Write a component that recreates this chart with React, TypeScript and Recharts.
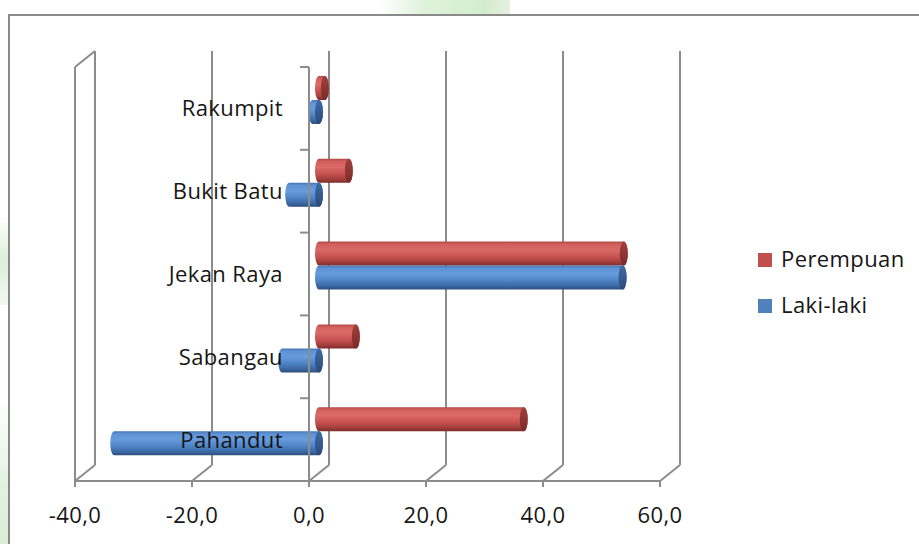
import React from 'react';
import {
  BarChart,
  Bar,
  XAxis,
  YAxis,
  CartesianGrid,
  ReferenceLine,
  ReferenceDot,
} from 'recharts';

// Kecamatan order as in the worksheet (first row ends up at the bottom)
const kecamatan = ['Pahandut', 'Sabangau', 'Jekan Raya', 'Bukit Batu', 'Rakumpit'];
const lakiLaki = [-35.0, -6.3, 51.9, -5.1, -1.1];
const perempuan = [35.0, 6.3, 52.1, 5.1, 1.0];
const xTicks = [-40, -20, 0, 20, 40, 60];

const data = kecamatan.map((name, i) => ({
  name,
  laki: lakiLaki[i],
  perempuan: perempuan[i],
}));

// depth of the fake 3D box (back wall offset from the front plane)
const DX = 20;
const DY = -16;
const GRID = '#8c8c8c';
const FONT = '"Open Sans", sans-serif';
const FONT_SIZE = 22;
const SPACING = 0.4;
const TEXT = '#161616';

const fmt = (v: number) => v.toFixed(1).replace('.', ',');

const Cylinder = (props: any) => {
  const { x, y, width, height, tone } = props;
  if (width == null || height == null || !height) return null;
  const left = Math.min(x, x + width) + DX / 2;
  const right = Math.max(x, x + width) + DX / 2;
  const top = y + DY / 2;
  const ry = height / 2;
  const rx = 4;
  const d = `M${left},${top} L${right},${top} A${rx},${ry} 0 0 1 ${right},${top + height} L${left},${top + height} A${rx},${ry} 0 0 1 ${left},${top} Z`;
  return (
    <g>
      <path d={d} fill={`url(#body-${tone})`} />
      <ellipse cx={right} cy={top + ry} rx={rx} ry={ry} fill={`url(#cap-${tone})`} />
    </g>
  );
};

// back wall gridlines + floor diagonals, drawn from the x axis ticks
const WallLine = (props: any) => {
  const { x1, y1, y2, index } = props;
  return (
    <g key={`wall-${index}-${x1}`} stroke={GRID} strokeWidth={2} fill="none">
      <line x1={x1} y1={y2} x2={x1 + DX} y2={y2 + DY} />
      <line x1={x1 + DX} y1={y1 + DY} x2={x1 + DX} y2={y2 + DY} />
      {index === 0 && (
        <>
          <line x1={x1} y1={y1} x2={x1} y2={y2} />
          <line x1={x1} y1={y1} x2={x1 + DX} y2={y1 + DY} />
        </>
      )}
    </g>
  );
};

// category axis sitting at value 0 on the front plane
const CategoryAxis = (props: any) => {
  const { x1, y1, y2 } = props;
  const step = (y2 - y1) / kecamatan.length;
  return (
    <g stroke={GRID} strokeWidth={2}>
      <line x1={x1} y1={y1} x2={x1} y2={y2} />
      {Array.from({ length: kecamatan.length + 1 }, (_, i) => (
        <line key={i} x1={x1 - 9} y1={y1 + i * step} x2={x1} y2={y1 + i * step} />
      ))}
    </g>
  );
};

const categoryLabel = (name: string) => (props: any) => (
  <text
    x={props.cx - 26}
    y={props.cy + 8}
    textAnchor="end"
    fontFamily={FONT}
    fontSize={FONT_SIZE}
    letterSpacing={SPACING}
    fill={TEXT}
  >
    {name}
  </text>
);

const XTick = (props: any) => {
  const { x, y, payload } = props;
  return (
    <text
      x={x}
      y={y + 34}
      textAnchor="middle"
      fontFamily={FONT}
      fontSize={FONT_SIZE}
      letterSpacing={SPACING}
      fill={TEXT}
    >
      {fmt(payload.value)}
    </text>
  );
};

const legendItems = [
  { label: 'Perempuan', color: '#c0504d' },
  { label: 'Laki-laki', color: '#4f81bd' },
];

export default function App() {
  return (
    <div
      style={{
        position: 'absolute',
        left: 0,
        top: 0,
        width: 919,
        height: 544,
        overflow: 'hidden',
        background: '#ffffff',
      }}
    >
      {/* slide background peeking around the chart frame */}
      <div
        style={{
          position: 'absolute',
          left: 380,
          top: 0,
          width: 130,
          height: 16,
          background: 'linear-gradient(100deg, #ffffff 0%, #dff2db 35%, #d3ecce 80%, #e6f1e4 100%)',
        }}
      />
      <div
        style={{
          position: 'absolute',
          left: 0,
          top: 215,
          width: 9,
          height: 90,
          background: 'linear-gradient(180deg, #ffffff 0%, #dcefd8 50%, #f4f8f3 100%)',
        }}
      />
      <div
        style={{
          position: 'absolute',
          left: 0,
          top: 400,
          width: 9,
          height: 144,
          background: 'linear-gradient(180deg, #ffffff 0%, #e2f1df 60%, #d8edd4 100%)',
        }}
      />
      {/* chart frame */}
      <div
        style={{
          position: 'absolute',
          left: 8,
          top: 14,
          width: 960,
          height: 600,
          borderTop: '2px solid #8a8a8a',
          borderLeft: '2px solid #8a8a8a',
          background: '#ffffff',
        }}
      />

      <svg width={0} height={0} style={{ position: 'absolute' }}>
        <defs>
          <linearGradient id="body-red" x1="0" y1="0" x2="0" y2="1">
            <stop offset="0" stopColor="#b24a47" />
            <stop offset="0.12" stopColor="#d4605d" />
            <stop offset="0.35" stopColor="#da6a67" />
            <stop offset="0.62" stopColor="#c85350" />
            <stop offset="0.86" stopColor="#a23e3b" />
            <stop offset="1" stopColor="#7c2c2a" />
          </linearGradient>
          <linearGradient id="cap-red" x1="0" y1="0" x2="0" y2="1">
            <stop offset="0" stopColor="#a0403d" />
            <stop offset="1" stopColor="#7a2b29" />
          </linearGradient>
          <linearGradient id="body-blue" x1="0" y1="0" x2="0" y2="1">
            <stop offset="0" stopColor="#4676b3" />
            <stop offset="0.12" stopColor="#5f93d5" />
            <stop offset="0.35" stopColor="#669bdc" />
            <stop offset="0.62" stopColor="#4f84c6" />
            <stop offset="0.86" stopColor="#3b67a1" />
            <stop offset="1" stopColor="#2c4d7c" />
          </linearGradient>
          <linearGradient id="cap-blue" x1="0" y1="0" x2="0" y2="1">
            <stop offset="0" stopColor="#3f6aa5" />
            <stop offset="1" stopColor="#2b4b79" />
          </linearGradient>
        </defs>
      </svg>

      <div style={{ position: 'absolute', left: 0, top: 0 }}>
        <BarChart
          width={919}
          height={544}
          data={data}
          layout="vertical"
          margin={{ top: 67, right: 259, bottom: 0, left: 75 }}
          barSize={24}
          barGap={0}
        >
          <CartesianGrid horizontal={false} vertical={WallLine} />
          <XAxis
            type="number"
            domain={[-40, 60]}
            ticks={xTicks}
            height={63}
            axisLine={{ stroke: GRID, strokeWidth: 2 }}
            tickLine={{ stroke: GRID, strokeWidth: 2 }}
            tickSize={6}
            tick={<XTick />}
            allowDataOverflow
          />
          <YAxis type="category" dataKey="name" reversed hide width={0} />
          <Bar
            dataKey="perempuan"
            name="Perempuan"
            fill="#c0504d"
            isAnimationActive={false}
            shape={(p: any) => <Cylinder {...p} tone="red" />}
          />
          <Bar
            dataKey="laki"
            name="Laki-laki"
            fill="#4f81bd"
            isAnimationActive={false}
            shape={(p: any) => <Cylinder {...p} tone="blue" />}
          />
          <ReferenceLine x={0} shape={CategoryAxis} />
          {kecamatan.map((name) => (
            <ReferenceDot key={name} x={0} y={name} r={0} shape={categoryLabel(name)} />
          ))}
        </BarChart>
      </div>

      <svg width={919} height={544} style={{ position: 'absolute', left: 0, top: 0 }}>
        {legendItems.map((item, i) => (
          <g key={item.label} transform={`translate(758, ${253 + i * 46})`}>
            <rect x={0} y={0} width={14} height={14} fill={item.color} />
            <text
              x={23}
              y={14}
              fontFamily={FONT}
              fontSize={FONT_SIZE}
              letterSpacing={SPACING}
              fill={TEXT}
            >
              {item.label}
            </text>
          </g>
        ))}
      </svg>
    </div>
  );
}
